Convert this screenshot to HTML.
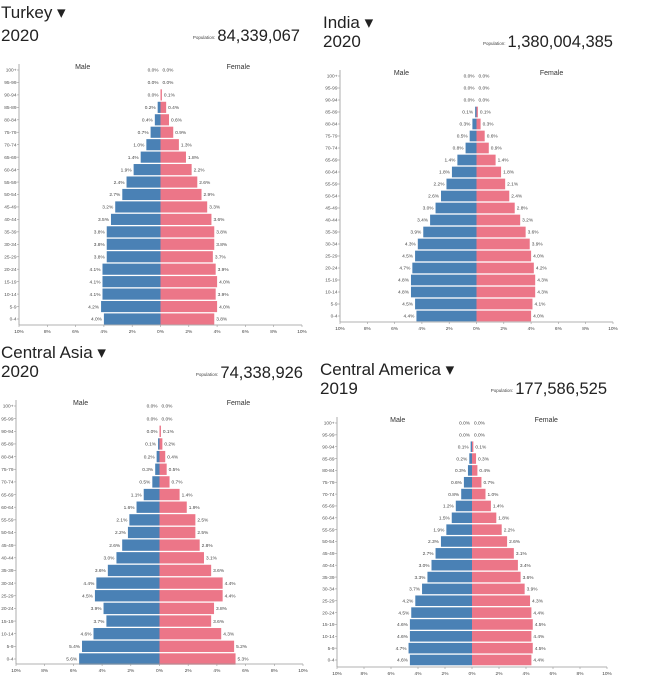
<!DOCTYPE html>
<html><head><meta charset="utf-8">
<style>
html,body{margin:0;padding:0;background:#fff;}
body{width:645px;height:686px;overflow:hidden;font-family:"Liberation Sans",sans-serif;}
svg{position:absolute;left:0;top:0;}
</style></head>
<body>
<svg id="chart" width="645" height="686" viewBox="0 0 645 686"></svg>
<script>
const ageGroups = ["100+","95-99","90-94","85-89","80-84","75-79","70-74","65-69","60-64","55-59","50-54","45-49","40-44","35-39","30-34","25-29","20-24","15-19","10-14","5-9","0-4"];
const tickValues = [-10,-8,-6,-4,-2,0,2,4,6,8,10];
const tickLabels = ["10%","8%","6%","4%","2%","0%","2%","4%","6%","8%","10%"];
const turkeyMale = [0.0,0.0,0.0,0.2,0.4,0.7,1.0,1.4,1.9,2.4,2.7,3.2,3.5,3.8,3.8,3.8,4.1,4.1,4.1,4.2,4.0];
const turkeyFemale = [0.0,0.0,0.1,0.4,0.6,0.9,1.3,1.8,2.2,2.6,2.9,3.3,3.6,3.8,3.8,3.7,3.9,4.0,3.9,4.0,3.8];
const indiaMale = [0.0,0.0,0.0,0.1,0.3,0.5,0.8,1.4,1.8,2.2,2.6,3.0,3.4,3.9,4.3,4.5,4.7,4.8,4.8,4.5,4.4];
const indiaFemale = [0.0,0.0,0.0,0.1,0.3,0.6,0.9,1.4,1.8,2.1,2.4,2.8,3.2,3.6,3.9,4.0,4.2,4.3,4.3,4.1,4.0];
const casiaMale = [0.0,0.0,0.0,0.1,0.2,0.3,0.5,1.1,1.6,2.1,2.2,2.6,3.0,3.6,4.4,4.5,3.9,3.7,4.6,5.4,5.6];
const casiaFemale = [0.0,0.0,0.1,0.2,0.4,0.5,0.7,1.4,1.9,2.5,2.5,2.8,3.1,3.6,4.4,4.4,3.8,3.6,4.3,5.2,5.3];
const camericaMale = [0.0,0.0,0.1,0.2,0.3,0.6,0.8,1.2,1.5,1.9,2.3,2.7,3.0,3.3,3.7,4.2,4.5,4.6,4.6,4.7,4.6];
const camericaFemale = [0.0,0.0,0.1,0.3,0.4,0.7,1.0,1.4,1.8,2.2,2.6,3.1,3.4,3.6,3.9,4.3,4.4,4.5,4.4,4.5,4.4];

const NS = "http://www.w3.org/2000/svg";
const svg = document.getElementById("chart");
function mk(tag, attrs, parent, text){
  const e = document.createElementNS(NS, tag);
  for (const k in attrs) e.setAttribute(k, attrs[k]);
  if (text !== undefined) e.textContent = text;
  (parent||svg).appendChild(e);
  return e;
}

const panels = [
  {key:"turkey", name:"Turkey", year:"2020", pop:"84,339,067", male:turkeyMale, female:turkeyFemale,
   tx:1, ty:18, yy:41, popLblX:184, popX:300, popY:41, x0:19, x1:302, yTop:70, yBot:319, axisY:325},
  {key:"india", name:"India", year:"2020", pop:"1,380,004,385", male:indiaMale, female:indiaFemale,
   tx:323, ty:28, yy:47, popLblX:478, popX:613, popY:47, x0:340, x1:613, yTop:76, yBot:316, axisY:322},
  {key:"central-asia", name:"Central Asia", year:"2020", pop:"74,338,926", male:casiaMale, female:casiaFemale,
   tx:1, ty:358, yy:377, popLblX:186, popX:303, popY:378, x0:16, x1:303, yTop:406, yBot:659, axisY:664},
  {key:"central-america", name:"Central America", year:"2019", pop:"177,586,525", male:camericaMale, female:camericaFemale,
   tx:320, ty:375, yy:394, popLblX:494, popX:607, popY:394, x0:337, x1:607, yTop:423, yBot:660, axisY:667}
];

panels.forEach(p => {
  const g = mk("g", {});
  
  
  const xScale = v => p.x0 + (v + 10) / 20 * (p.x1 - p.x0);
  const step = (p.yBot - p.yTop) / (ageGroups.length - 1);
  const yScale = i => p.yTop + i * step;
  const bh = step - 1.3;

  const t = mk("text", {x:p.tx, y:p.ty, "font-size":17, fill:"#222"}, g, p.name + " \u25BE");
  
  
  const yr = mk("text", {x:p.tx, y:p.yy, "font-size":17, fill:"#222"}, g, p.year);
  
  
  const pv = mk("text", {x:p.popX, y:p.popY, "font-size":16.5, fill:"#222", "text-anchor":"end"}, g, p.pop);
  
  
  const pl = mk("text", {x:p.popX - pv.getComputedTextLength() - 2, y:p.popY-2, "font-size":4.5, fill:"#444", "text-anchor":"end"}, g, "Population:");
  
  

  const cx = xScale(0);
  const ml = mk("text", {x:xScale(-5.5), y:p.yTop-1, "font-size":7, fill:"#333", "text-anchor":"middle"}, g, "Male");
  
  
  const fl = mk("text", {x:xScale(5.5), y:p.yTop-1, "font-size":7, fill:"#333", "text-anchor":"middle"}, g, "Female");
  
  

  ageGroups.forEach((a, i) => {
    const y = yScale(i);
    const mv = p.male[i], fv = p.female[i];
    const mb = mk("rect", {x:xScale(-mv), y:y-bh/2, width:cx-xScale(-mv), height:bh, fill:"#4a81b5"}, g);
    
    
    const fb = mk("rect", {x:cx, y:y-bh/2, width:xScale(fv)-cx, height:bh, fill:"#ec7688"}, g);
    
    
    const mt = mk("text", {x:xScale(-mv)-2, y:y+1.7, "font-size":4.8, fill:"#444", "text-anchor":"end"}, g, mv.toFixed(1)+"%");
    
    
    const ft = mk("text", {x:xScale(fv)+2, y:y+1.7, "font-size":4.8, fill:"#444"}, g, fv.toFixed(1)+"%");
    
    
    const al = mk("text", {x:p.x0-2.5, y:y+1.7, "font-size":4.8, fill:"#555", "text-anchor":"end"}, g, a);
    
    
    mk("line", {x1:p.x0-2, x2:p.x0, y1:y, y2:y, stroke:"#999", "stroke-width":0.6}, g);
  });

  const ya = mk("line", {x1:p.x0, x2:p.x0, y1:p.yTop-6, y2:p.axisY, stroke:"#999", "stroke-width":0.8}, g);
  
  
  const xa = mk("line", {x1:p.x0, x2:p.x1, y1:p.axisY, y2:p.axisY, stroke:"#999", "stroke-width":0.8}, g);
  
  
  tickValues.forEach((v, j) => {
    const x = xScale(v);
    mk("line", {x1:x, x2:x, y1:p.axisY, y2:p.axisY+2, stroke:"#999", "stroke-width":0.6}, g);
    const tl = mk("text", {x:x, y:p.axisY+8, "font-size":4.8, fill:"#444", "text-anchor":"middle"}, g, tickLabels[j]);
    
    
  });
});
</script>
</body></html>
